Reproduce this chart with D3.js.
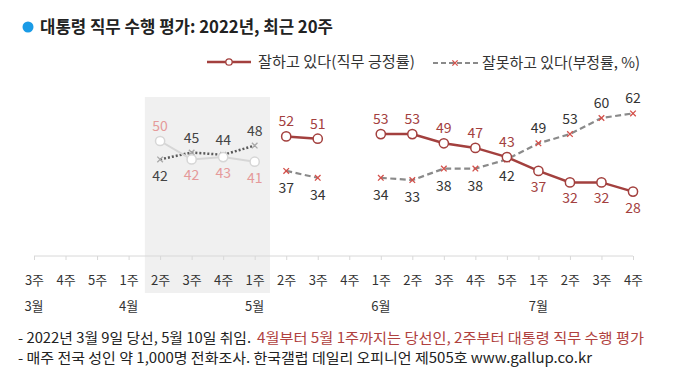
<!DOCTYPE html>
<html><head><meta charset="utf-8">
<script src="https://cdn.jsdelivr.net/npm/d3@7"></script>
<style>
html,body{margin:0;padding:0;background:#fff;}
svg{display:block;font-family:"Noto Sans CJK KR","Noto Sans",sans-serif;}
</style></head>
<body>
<svg id="chart" width="674" height="379"></svg>
<script>
// ---- data ----
const weeks = ['3주','4주','5주','1주','2주','3주','4주','1주','2주','3주','4주','1주','2주','3주','4주','5주','1주','2주','3주','4주'];
const months = ['3월','','','4월','','','','5월','','','','6월','','','','','7월','','',''];
const approval = [null,null,null,null,50,42,43,41,52,51,null,53,53,49,47,43,37,32,32,28];
const disapproval = [null,null,null,null,42,45,44,48,37,34,null,34,33,38,38,42,49,53,60,62];
const electPeriod = [0,0,0,0,1,1,1,1,0,0,0,0,0,0,0,0,0,0,0,0];
const title = '대통령 직무 수행 평가: 2022년, 최근 20주';
const legendLabels = ['잘하고 있다(직무 긍정률)','잘못하고 있다(부정률, %)'];
const note1a = '- 2022년 3월 9일 당선, 5월 10일 취임.';
const note1b = '4월부터 5월 1주까지는 당선인, 2주부터 대통령 직무 수행 평가';
const note2 = '- 매주 전국 성인 약 1,000명 전화조사. 한국갤럽 데일리 오피니언 제505호 www.gallup.co.kr';

const svg = d3.select('#chart');
const idx = d3.range(weeks.length);
const x = d3.scalePoint().domain(idx).range([34, 633]);
const y = d3.scaleLinear().domain([0, 60]).range([256, 118]);

const RED = '#a3403e', XRED = '#d4504a', GRAY = '#8a8a8a';

// grey elect-period box
const eIdx = idx.filter(i => electPeriod[i]);
const step = x.step();
svg.append('rect')
  .attr('x', x(eIdx[0]) - step/2 + 0.5).attr('y', 97)
  .attr('width', x(eIdx[eIdx.length-1]) - x(eIdx[0]) + step - 1)
  .attr('height', 196).attr('fill', '#f0f0f0');

// title
svg.append('circle').attr('cx', 28).attr('cy', 27).attr('r', 5.5).attr('fill', '#1a9be6');
svg.append('text').attr('x', 40).attr('y', 33).attr('font-size', 17).attr('font-weight', 'bold')
  .attr('fill', '#222').attr('textLength', 293).attr('lengthAdjust', 'spacingAndGlyphs').text(title);

// legend
const lg = svg.append('g');
lg.append('line').attr('x1', 207).attr('x2', 251).attr('y1', 62).attr('y2', 62)
  .attr('stroke', RED).attr('stroke-width', 2.5);
lg.append('circle').attr('cx', 229).attr('cy', 62).attr('r', 3.2).attr('fill', '#fff')
  .attr('stroke', RED).attr('stroke-width', 1.3);
lg.append('text').attr('x', 258).attr('y', 67).attr('font-size', 15).attr('fill', '#333')
  .attr('textLength', 157).attr('lengthAdjust', 'spacingAndGlyphs').text(legendLabels[0]);
lg.append('line').attr('x1', 433).attr('x2', 478).attr('y1', 63).attr('y2', 63)
  .attr('stroke', GRAY).attr('stroke-width', 2).attr('stroke-dasharray', '5,3');
lg.append('path').attr('d', d3.symbol(d3.symbolX, 20)()).attr('transform', 'translate(455,63)')
  .attr('stroke', XRED).attr('stroke-width', 1.3).attr('fill', 'none');
lg.append('text').attr('x', 482).attr('y', 68).attr('font-size', 15).attr('fill', '#333')
  .attr('textLength', 158).attr('lengthAdjust', 'spacingAndGlyphs').text(legendLabels[1]);

// axis
const axisG = svg.append('g').attr('transform', 'translate(0,256)');
const axis = d3.axisBottom(x).tickSize(4).tickFormat(i => weeks[i]);
axisG.call(axis);
axisG.select('.domain').attr('stroke', '#d8d8d8').attr('d', `M${x(0)},0H${x(19)}`);
axisG.selectAll('.tick line').attr('stroke', '#d8d8d8');
axisG.selectAll('.tick text').attr('font-size', 13).attr('fill', '#333').attr('dy', 0)
  .attr('y', 29).attr('font-family', '"Noto Sans CJK KR",sans-serif');
svg.append('g').selectAll('text').data(idx.filter(i => months[i])).join('text')
  .attr('x', i => x(i)).attr('y', 311).attr('text-anchor', 'middle')
  .attr('font-size', 13).attr('fill', '#333').text(i => months[i]);

// segments: split by null and by period
function segments(vals) {
  const segs = []; let cur = null;
  idx.forEach(i => {
    if (vals[i] == null) { cur = null; return; }
    if (!cur || cur.elect !== electPeriod[i]) { cur = {elect: electPeriod[i], pts: []}; segs.push(cur); }
    cur.pts.push(i);
  });
  return segs;
}
const line = vals => d3.line().x(i => x(i)).y(i => y(vals[i]));

// disapproval lines
segments(disapproval).forEach(s => {
  svg.append('path').datum(s.pts).attr('d', line(disapproval)).attr('fill', 'none')
    .attr('stroke', s.elect ? '#5a5a5a' : GRAY).attr('stroke-width', s.elect ? 2.5 : 2.2)
    .attr('stroke-dasharray', s.elect ? '2,2' : '6,3.5');
});
// approval lines
segments(approval).forEach(s => {
  svg.append('path').datum(s.pts).attr('d', line(approval)).attr('fill', 'none')
    .attr('stroke', s.elect ? '#d6d6d6' : RED).attr('stroke-width', s.elect ? 2 : 2.5);
});
// disapproval markers
svg.append('g').selectAll('path').data(idx.filter(i => disapproval[i] != null)).join('path')
  .attr('d', d3.symbol(d3.symbolX, 22)())
  .attr('transform', i => `translate(${x(i)},${y(disapproval[i])})`)
  .attr('fill', 'none').attr('stroke-width', 1.3)
  .attr('stroke', i => electPeriod[i] ? '#a8a8a8' : XRED);
// approval markers
svg.append('g').selectAll('circle').data(idx.filter(i => approval[i] != null)).join('circle')
  .attr('cx', i => x(i)).attr('cy', i => y(approval[i])).attr('r', 4.6)
  .attr('fill', '#fff').attr('stroke-width', 1.5)
  .attr('stroke', i => electPeriod[i] ? '#d6d6d6' : RED);

// labels
const lbl = svg.append('g').attr('font-size', 14).attr('text-anchor', 'middle');
idx.filter(i => approval[i] != null).forEach(i => {
  const above = approval[i] >= disapproval[i];
  lbl.append('text').attr('x', x(i)).attr('y', y(approval[i]) + (above ? -10 : 21))
    .attr('fill', electPeriod[i] ? '#e59a9a' : RED).text(approval[i]);
});
idx.filter(i => disapproval[i] != null).forEach(i => {
  const above = disapproval[i] > approval[i];
  lbl.append('text').attr('x', x(i)).attr('y', y(disapproval[i]) + (above ? -10 : 22))
    .attr('fill', electPeriod[i] ? '#444' : '#333').text(disapproval[i]);
});

// notes
svg.append('text').attr('x', 18).attr('y', 343).attr('font-size', 14).attr('fill', '#222')
  .attr('textLength', 233).attr('lengthAdjust', 'spacingAndGlyphs').text(note1a);
svg.append('text').attr('x', 257).attr('y', 343).attr('font-size', 14).attr('fill', '#b0413e')
  .attr('textLength', 387).attr('lengthAdjust', 'spacingAndGlyphs').text(note1b);
svg.append('text').attr('x', 18).attr('y', 363).attr('font-size', 14).attr('fill', '#222')
  .attr('textLength', 574).attr('lengthAdjust', 'spacingAndGlyphs').text(note2);
</script>
</body></html>
